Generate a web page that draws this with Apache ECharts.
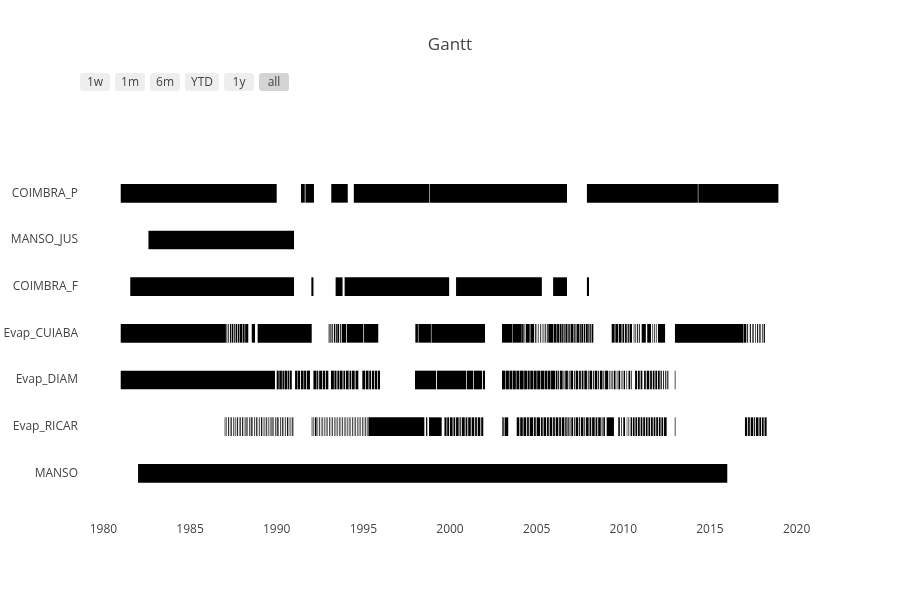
<!DOCTYPE html>
<html>
<head>
<meta charset="utf-8">
<script src="https://cdn.jsdelivr.net/npm/echarts@6/dist/echarts.min.js"></script>
<style>html,body{margin:0;padding:0;background:#fff}#c{width:900px;height:600px}</style>
</head>
<body>
<div id="c"></div>
<script>
// categories, bottom to top
const categories = ['MANSO', 'Evap_RICAR', 'Evap_DIAM', 'Evap_CUIABA', 'COIMBRA_F', 'MANSO_JUS', 'COIMBRA_P'];
const xTicks = [1980, 1985, 1990, 1995, 2000, 2005, 2010, 2015, 2020];
const buttons = ['1w', '1m', '6m', 'YTD', '1y', 'all'];

// task periods [start, end] in decimal years
const COIMBRA_P = [[1981.0,1990.0],[1991.4,1991.62],[1991.66,1992.15],[1993.15,1994.1],[1994.45,1998.8],[1998.83,2006.75],[2007.9,2014.3],[2014.33,2018.95]];
const MANSO_JUS = [[1982.6,1991.0]];
const COIMBRA_F = [[1981.55,1991.0],[1992.0,1992.12],[1993.4,1993.8],[1993.92,1999.95],[2000.35,2005.3],[2005.95,2006.75],[2007.9,2008.02]];
const Evap_CUIABA = [
  [1981.0,1987.07],
  [1987.1,1987.15],[1987.2,1987.24],[1987.3,1987.36],[1987.4,1987.5],[1987.55,1987.6],[1987.63,1987.72],[1987.76,1987.85],[1987.88,1988.0],[1988.03,1988.15],[1988.18,1988.36],
  [1988.56,1988.75],[1988.9,1992.02],
  [1993.0,1993.05],[1993.1,1993.16],[1993.2,1993.24],[1993.3,1993.38],[1993.42,1993.47],[1993.5,1993.6],[1993.65,1993.7],[1993.75,1994.0],
  [1994.04,1995.0],[1995.04,1995.86],
  [1998.0,1998.15],[1998.18,1998.9],[1998.93,2002.02],
  [2003.0,2003.6],[2003.62,2004.14],
  [2004.16,2004.25],[2004.3,2004.34],[2004.38,2004.6],[2004.64,2004.85],[2004.9,2004.95],[2005.0,2005.03],[2005.1,2005.13],[2005.2,2005.24],[2005.3,2005.33],[2005.4,2005.44],[2005.5,2005.55],[2005.6,2005.64],[2005.67,2005.95],[2005.98,2006.15],[2006.18,2006.3],[2006.33,2006.44],[2006.47,2006.55],[2006.58,2006.62],[2006.66,2006.75],[2006.78,2006.85],[2006.88,2006.95],[2006.98,2007.1],[2007.13,2007.2],[2007.24,2007.3],[2007.33,2007.45],[2007.48,2007.55],[2007.58,2007.68],[2007.72,2007.8],[2007.84,2007.95],[2007.98,2008.05],[2008.09,2008.15],[2008.18,2008.27],
  [2009.33,2009.5],[2009.54,2009.7],[2009.74,2009.9],[2009.95,2010.05],[2010.1,2010.2],[2010.25,2010.32],[2010.36,2010.5],[2010.6,2010.64],[2010.7,2010.74],[2010.8,2010.85],[2010.9,2010.95],[2011.06,2011.3],[2011.38,2011.6],[2011.68,2011.72],[2011.78,2011.82],[2011.88,2011.92],[2012.0,2012.41],
  [2012.98,2016.92],
  [2016.94,2017.1],[2017.15,2017.2],[2017.3,2017.36],[2017.45,2017.52],[2017.6,2017.64],[2017.72,2017.78],[2017.85,2017.92],[2018.0,2018.04],[2018.1,2018.17]
];
const Evap_DIAM = [
  [1981.0,1989.9],
  [1990.0,1990.12],[1990.15,1990.3],[1990.33,1990.42],[1990.45,1990.6],[1990.63,1990.72],[1990.75,1990.87],[1991.06,1991.2],[1991.23,1991.35],[1991.4,1991.55],[1991.58,1991.7],[1991.74,1991.92],[1992.12,1992.3],[1992.33,1992.4],[1992.45,1992.62],[1992.66,1992.8],[1992.84,1992.98],[1993.13,1993.3],[1993.33,1993.45],[1993.5,1993.6],[1993.63,1993.8],[1993.85,1993.95],[1994.0,1994.15],[1994.2,1994.3],[1994.34,1994.5],[1994.55,1994.71],[1994.94,1995.1],[1995.14,1995.3],[1995.34,1995.45],[1995.5,1995.62],[1995.66,1995.8],[1995.84,1995.96],
  [1997.98,1999.2],[1999.25,2000.94],[2000.98,2001.33],[2001.37,2001.85],[2001.9,2002.02],
  [2003.0,2003.2],[2003.23,2003.4],[2003.43,2003.6],[2003.63,2003.8],[2003.83,2004.0],[2004.03,2004.25],[2004.28,2004.45],[2004.48,2004.6],[2004.63,2004.8],[2004.83,2005.0],[2005.03,2005.2],[2005.23,2005.45],[2005.48,2005.6],[2005.63,2005.8],[2005.83,2006.06],
  [2006.1,2006.2],[2006.24,2006.3],[2006.35,2006.5],[2006.55,2006.6],[2006.65,2006.8],[2006.85,2006.9],[2006.95,2007.1],[2007.15,2007.2],[2007.25,2007.4],[2007.45,2007.55],[2007.6,2007.7],[2007.75,2007.9],[2007.95,2008.0],[2008.05,2008.2],[2008.25,2008.3],[2008.35,2008.5],[2008.55,2008.6],[2008.65,2008.8],[2008.85,2008.9],[2008.95,2009.13],
  [2009.2,2009.25],[2009.32,2009.38],[2009.45,2009.55],[2009.62,2009.66],[2009.72,2009.82],[2009.9,2009.95],[2010.02,2010.1],[2010.18,2010.22],[2010.3,2010.4],[2010.45,2010.49],
  [2010.68,2010.8],[2010.85,2010.95],[2011.0,2011.1],[2011.2,2011.3],[2011.35,2011.5],[2011.55,2011.65],[2011.7,2011.8],[2011.85,2011.95],[2012.0,2012.1],[2012.15,2012.22],[2012.3,2012.35],[2012.42,2012.48],[2012.54,2012.6],
  [2012.97,2013.01]
];
const Evap_RICAR = [
  [1987.0,1987.04],[1987.1,1987.13],[1987.2,1987.25],[1987.3,1987.33],[1987.38,1987.42],[1987.5,1987.55],[1987.6,1987.63],[1987.7,1987.76],[1987.82,1987.85],[1987.9,1987.94],[1988.0,1988.05],[1988.1,1988.13],[1988.2,1988.26],[1988.3,1988.33],[1988.4,1988.44],[1988.5,1988.56],[1988.6,1988.63],[1988.7,1988.74],[1988.8,1988.85],[1988.9,1988.93],[1989.0,1989.04],[1989.1,1989.16],[1989.2,1989.23],[1989.3,1989.34],[1989.4,1989.45],[1989.5,1989.53],[1989.6,1989.64],[1989.7,1989.76],[1989.8,1989.83],[1989.9,1989.94],[1990.0,1990.06],[1990.1,1990.13],[1990.2,1990.24],[1990.3,1990.35],[1990.4,1990.43],[1990.5,1990.54],[1990.6,1990.66],[1990.7,1990.73],[1990.8,1990.84],[1990.9,1990.96],
  [1992.02,1992.06],[1992.12,1992.15],[1992.2,1992.3],[1992.36,1992.39],[1992.45,1992.49],[1992.55,1992.58],[1992.64,1992.68],[1992.74,1992.77],[1992.83,1992.87],[1992.93,1992.96],[1993.02,1993.06],[1993.12,1993.15],[1993.21,1993.25],[1993.31,1993.34],[1993.4,1993.44],[1993.5,1993.53],[1993.59,1993.63],[1993.69,1993.72],[1993.78,1993.82],[1993.88,1993.91],[1993.97,1994.01],[1994.07,1994.1],[1994.16,1994.2],[1994.26,1994.29],[1994.35,1994.39],[1994.45,1994.48],[1994.54,1994.58],[1994.64,1994.67],[1994.73,1994.77],[1994.83,1994.86],[1994.92,1994.96],[1995.02,1995.05],[1995.11,1995.15],[1995.2,1995.24],
  [1995.29,1998.52],[1998.62,1998.69],[1998.79,1999.52],
  [1999.68,1999.8],[1999.84,1999.95],[2000.0,2000.15],[2000.2,2000.3],[2000.35,2000.5],[2000.55,2000.62],[2000.68,2000.85],[2000.9,2001.0],[2001.05,2001.2],[2001.25,2001.4],[2001.45,2001.55],[2001.6,2001.75],[2001.8,2001.92],
  [2003.02,2003.1],[2003.15,2003.36],
  [2003.85,2004.0],[2004.05,2004.2],[2004.24,2004.4],[2004.45,2004.55],[2004.6,2004.8],[2004.85,2004.95],[2005.0,2005.2],[2005.25,2005.35],[2005.4,2005.55],[2005.6,2005.7],[2005.75,2005.9],[2005.95,2006.05],[2006.1,2006.25],[2006.3,2006.4],[2006.45,2006.6],[2006.65,2006.73],[2006.78,2006.85],[2006.9,2006.95],[2007.0,2007.1],[2007.15,2007.2],[2007.25,2007.4],[2007.45,2007.5],[2007.55,2007.7],[2007.75,2007.8],[2007.85,2008.0],[2008.05,2008.15],[2008.2,2008.35],[2008.4,2008.5],[2008.55,2008.7],[2008.75,2008.8],[2008.85,2008.94],
  [2009.04,2009.46],
  [2009.71,2009.8],[2009.88,2009.92],[2010.0,2010.1],[2010.2,2010.23],[2010.3,2010.34],[2010.42,2010.5],[2010.55,2010.65],[2010.7,2010.8],[2010.85,2010.95],[2011.0,2011.1],[2011.15,2011.25],[2011.3,2011.4],[2011.45,2011.55],[2011.6,2011.7],[2011.75,2011.85],[2011.9,2012.0],[2012.05,2012.15],[2012.2,2012.3],[2012.35,2012.5],
  [2012.97,2013.01],
  [2017.02,2017.15],[2017.2,2017.3],[2017.35,2017.5],[2017.55,2017.6],[2017.65,2017.8],[2017.85,2017.95],[2018.0,2018.1],[2018.15,2018.27]
];
const MANSO = [[1982.0,2016.0]];

const rows = {MANSO, Evap_RICAR, Evap_DIAM, Evap_CUIABA, COIMBRA_F, MANSO_JUS, COIMBRA_P};
const data = [];
categories.forEach((name, i) => {
  rows[name].forEach(p => data.push([p[0], p[1], i]));
});

const FONT = '"Open Sans", verdana, arial, sans-serif';
const chart = echarts.init(document.getElementById('c'), null, {renderer: 'canvas'});

let bx = 80;
const btnWidths = [30, 30, 30, 34, 30, 30];
const graphics = [];
buttons.forEach((b, i) => {
  const w = btnWidths[i];
  graphics.push({
    type: 'group', left: bx, top: 73,
    children: [
      {type: 'rect', shape: {x: 0, y: 0, width: w, height: 18, r: 3}, style: {fill: b === 'all' ? '#d4d4d4' : '#eeeeee'}},
      {type: 'text', x: w / 2, y: 10, style: {text: b, font: '12px ' + FONT, fill: '#444', align: 'center', verticalAlign: 'middle'}}
    ]
  });
  bx += w + 5;
});

chart.setOption({
  backgroundColor: '#fff',
  animation: false,
  title: {text: 'Gantt', left: 'center', top: 32, textStyle: {fontFamily: FONT, fontSize: 17, fontWeight: 'normal', color: '#444'}},
  grid: {left: 80, right: 80, top: 100, bottom: 80, containLabel: false},
  xAxis: {
    type: 'value', min: 1978.65, max: 2021.35,
    axisLine: {show: false}, axisTick: {show: false}, splitLine: {show: false},
    axisLabel: {customValues: xTicks, formatter: v => String(v), color: '#444', fontFamily: FONT, fontSize: 12, margin: 4}
  },
  yAxis: {
    type: 'value', min: -1, max: 8,
    axisLine: {show: false}, axisTick: {show: false}, splitLine: {show: false},
    axisLabel: {customValues: categories.map((c, i) => i), formatter: v => categories[v], color: '#444', fontFamily: FONT, fontSize: 12, margin: 2, padding: [2, 0, 0, 0]}
  },
  graphic: graphics,
  series: [{
    type: 'custom',
    encode: {x: [0, 1], y: 2},
    data: data,
    clip: true,
    renderItem: (params, api) => {
      const s = api.coord([api.value(0), api.value(2)]);
      const e = api.coord([api.value(1), api.value(2)]);
      const h = api.size([0, 0.4])[1];
      return {type: 'rect', shape: {x: s[0], y: s[1] - h / 2, width: e[0] - s[0], height: h}, style: {fill: '#000'}};
    }
  }]
});
</script>
</body>
</html>
